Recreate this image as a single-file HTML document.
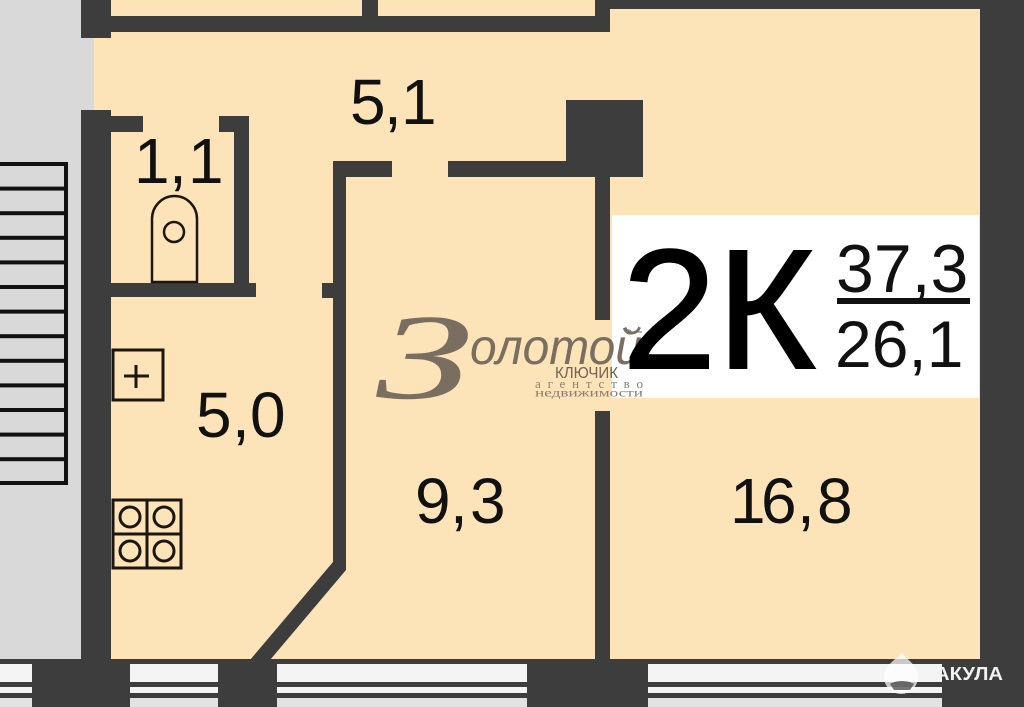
<!DOCTYPE html>
<html><head><meta charset="utf-8"><style>html,body{margin:0;padding:0;background:#fce3b8}svg{display:block}text{font-family:"Liberation Sans",sans-serif;fill:#111}</style></head>
<body><svg width="1024" height="707" viewBox="0 0 1024 707" xmlns="http://www.w3.org/2000/svg">
<rect width="1024" height="707" fill="#fce3b8"/>
<rect x="0" y="0" width="94" height="110" fill="#d9d9d9"/>
<rect x="0" y="110" width="81" height="550" fill="#d9d9d9"/>
<!-- stairs -->
<g fill="#111">
<rect x="64" y="162" width="4" height="323"/>
<rect x="0" y="162" width="68" height="4"/><rect x="0" y="186.600" width="68" height="4"/><rect x="0" y="211.200" width="68" height="4"/><rect x="0" y="235.800" width="68" height="4"/><rect x="0" y="260.400" width="68" height="4"/><rect x="0" y="285" width="68" height="4"/><rect x="0" y="309.600" width="68" height="4"/><rect x="0" y="334.200" width="68" height="4"/><rect x="0" y="358.800" width="68" height="4"/><rect x="0" y="383.400" width="68" height="4"/><rect x="0" y="408" width="68" height="4"/><rect x="0" y="432.600" width="68" height="4"/><rect x="0" y="457.200" width="68" height="4"/><rect x="0" y="481" width="68" height="4"/>
</g>
<!-- walls -->
<g fill="#3d3d3d">
<rect x="81" y="0" width="30" height="38"/>
<rect x="111" y="16" width="499" height="16"/>
<rect x="362" y="0" width="16" height="16"/>
<rect x="595" y="0" width="15" height="32"/>
<rect x="610" y="0" width="370" height="9"/>
<rect x="980" y="0" width="44" height="707"/>
<rect x="81" y="110" width="30" height="550"/>
<rect x="111" y="116" width="32" height="16"/>
<rect x="219" y="116" width="30" height="16"/>
<rect x="234" y="116" width="15" height="181"/>
<rect x="111" y="283" width="145" height="14"/>
<rect x="322" y="283" width="11" height="15"/>
<rect x="333" y="161" width="13" height="407"/>
<rect x="333" y="161" width="59" height="16"/>
<rect x="448" y="161" width="118" height="16"/>
<rect x="566" y="100" width="77" height="77"/>
<rect x="595" y="177" width="15" height="143"/>
<rect x="595" y="411" width="15" height="249"/>
<polygon points="333,562 346,568 346,570 270,660 250,660"/>
<rect x="0" y="659" width="1024" height="48"/>
</g>
<!-- windows -->
<g fill="#f4f4f4">
<rect x="0" y="664" width="32" height="18"/><rect x="0" y="687" width="32" height="6"/>
<rect x="130" y="664" width="88" height="18"/><rect x="130" y="687" width="88" height="6"/>
<rect x="277" y="664" width="250" height="18"/><rect x="277" y="687" width="250" height="6"/>
<rect x="648" y="664" width="294" height="18"/><rect x="648" y="687" width="294" height="6"/>
</g>
<g fill="#e2e2e2">
<rect x="0" y="698" width="32" height="9"/><rect x="130" y="698" width="88" height="9"/><rect x="277" y="698" width="250" height="9"/><rect x="648" y="698" width="294" height="9"/>
</g>
<!-- fixtures -->
<g fill="none" stroke="#1c1610">
<path d="M152 282V219a22.500 23 0 0 1 45 0V282Z" stroke-width="2.500"/>
<circle cx="174" cy="232" r="10" stroke-width="2.500"/>
<rect x="113" y="350" width="50" height="50" stroke-width="3"/>
<path d="M124 376H149M136 365V388" stroke-width="3"/>
<rect x="113" y="500" width="68" height="68" stroke-width="3"/>
<path d="M147 500V568M113 534H181" stroke-width="3"/>
<circle cx="130" cy="517" r="10" stroke-width="3"/><circle cx="164" cy="517" r="10" stroke-width="3"/>
<circle cx="130" cy="551" r="10" stroke-width="3"/><circle cx="164" cy="551" r="10" stroke-width="3"/>
</g>
<!-- white label -->
<rect x="612" y="215" width="367" height="183" fill="#fff"/>
<!-- logo -->
<g>
<text x="376" y="398" font-size="122" style="font-family:'Liberation Serif',serif;font-style:italic;fill:#7a6e60" textLength="96" lengthAdjust="spacingAndGlyphs">З</text>
<text x="470" y="364" font-size="50" style="font-family:'Liberation Sans',sans-serif;font-style:italic;fill:#7a6e60" textLength="172" lengthAdjust="spacingAndGlyphs">олотой</text>
<text x="555" y="378" font-size="16" style="fill:#6f6455" textLength="63" lengthAdjust="spacingAndGlyphs">КЛЮЧИК</text>
<text x="535" y="388" font-size="13" style="font-family:'Liberation Serif',serif;fill:#8a7f70" textLength="108">агентство</text>
<text x="535" y="396.500" font-size="12" style="font-family:'Liberation Serif',serif;fill:#8a7f70" textLength="108" lengthAdjust="spacingAndGlyphs">недвижимости</text>
<circle cx="629" cy="332" r="2" fill="none" stroke="#7a6e60"/><path d="M631 332H642" stroke="#7a6e60"/>
</g>
<!-- big text -->
<text x="622" y="368" font-size="170" style="fill:#000;stroke:#000;stroke-width:2">2К</text>
<text x="836" y="292" font-size="68">37,3</text>
<rect x="837" y="298" width="133" height="6" fill="#111"/>
<text x="835" y="367" font-size="66">26,1</text>
<!-- room labels -->
<text y="124" font-size="64"><tspan x="350">5</tspan><tspan x="384">,</tspan><tspan x="401">1</tspan></text>
<text y="183" font-size="64"><tspan x="134">1</tspan><tspan x="169">,</tspan><tspan x="188">1</tspan></text>
<text y="437" font-size="64"><tspan x="196">5</tspan><tspan x="232">,</tspan><tspan x="250">0</tspan></text>
<text y="523" font-size="64"><tspan x="415">9</tspan><tspan x="450">,</tspan><tspan x="470">3</tspan></text>
<text y="523" font-size="64"><tspan x="730">1</tspan><tspan x="761">6</tspan><tspan x="797">,</tspan><tspan x="817">8</tspan></text>
<!-- watermark -->
<path d="M902 652C906 660 918 664 918 677A17 17 0 0 1 884 677C884 664 897 660 902 652Z" fill="#fff" opacity=".72"/>
<path d="M890 684C896 680 908 680 914 684L910 690H894Z" fill="#3d3d3d" opacity=".7"/>
<text x="935" y="680" font-size="18" font-weight="bold" style="fill:#f2f2f2" textLength="68" lengthAdjust="spacingAndGlyphs">АКУЛА</text>
</svg></body></html>
